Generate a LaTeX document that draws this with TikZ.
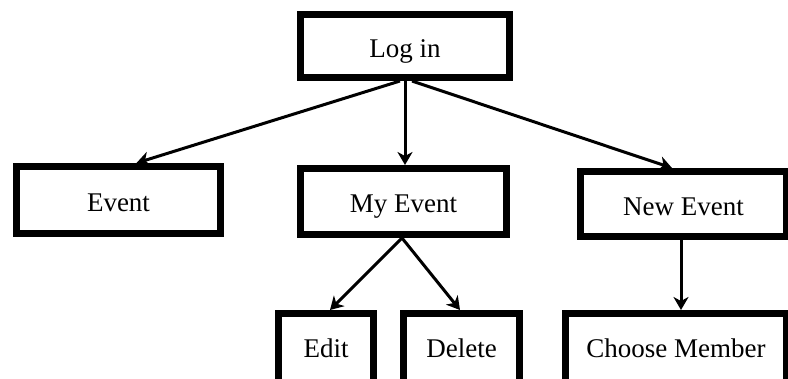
\documentclass[tikz,border=0pt]{standalone}
\usepackage{fontspec}
\setmainfont{Liberation Serif}
\usetikzlibrary{arrows.meta}
\begin{document}
\begin{tikzpicture}[x=1pt,y=-1pt,
  box/.style={draw=black,line width=7pt,rectangle,inner sep=0pt,
    font=\fontsize{27}{32}\selectfont,text height=22pt,text depth=0pt},
  lowbox/.style={box,text height=15pt,minimum height=72pt},
  link/.style={draw=black,line width=3pt,
    -{Stealth[length=13pt,width=15pt,inset=4pt]}}]
\useasboundingbox[fill=white] (0,0) rectangle (788,378);
% top level
\node[box,minimum width=209pt,minimum height=63pt] (login) at (405,46) {Log in};
% second level
\node[box,minimum width=204pt,minimum height=67pt] (event) at (118.5,200) {Event};
\node[box,minimum width=206pt,minimum height=66pt] (myevent) at (403.5,201.5) {My Event};
\node[box,minimum width=206pt,minimum height=65pt] (newevent) at (683.5,204) {New Event};
% third level (boxes run past the lower edge)
\node[lowbox,minimum width=95pt] (edit) at (326,349.5) {Edit};
\node[lowbox,minimum width=116pt] (delete) at (461.5,349.5) {Delete};
\node[lowbox,minimum width=221pt] (choose) at (676,349.5) {Choose Member};
% connectors
\draw[link] ([xshift=-5pt]login.south) -- ([xshift=18pt]event.north);
\draw[link] (login.south) -- (login.south |- myevent.north);
\draw[link] ([xshift=7pt]login.south) -- ([xshift=-11.5pt]newevent.north);
\draw[link] ([xshift=-1.5pt]myevent.south) -- ([xshift=4pt]edit.north);
\draw[link] ([xshift=-1.5pt]myevent.south) -- ([xshift=-1.5pt]delete.north);
\draw[link] ([xshift=-2.5pt]newevent.south) -- ([xshift=-2.5pt]newevent.south |- choose.north);
\end{tikzpicture}
\end{document}
